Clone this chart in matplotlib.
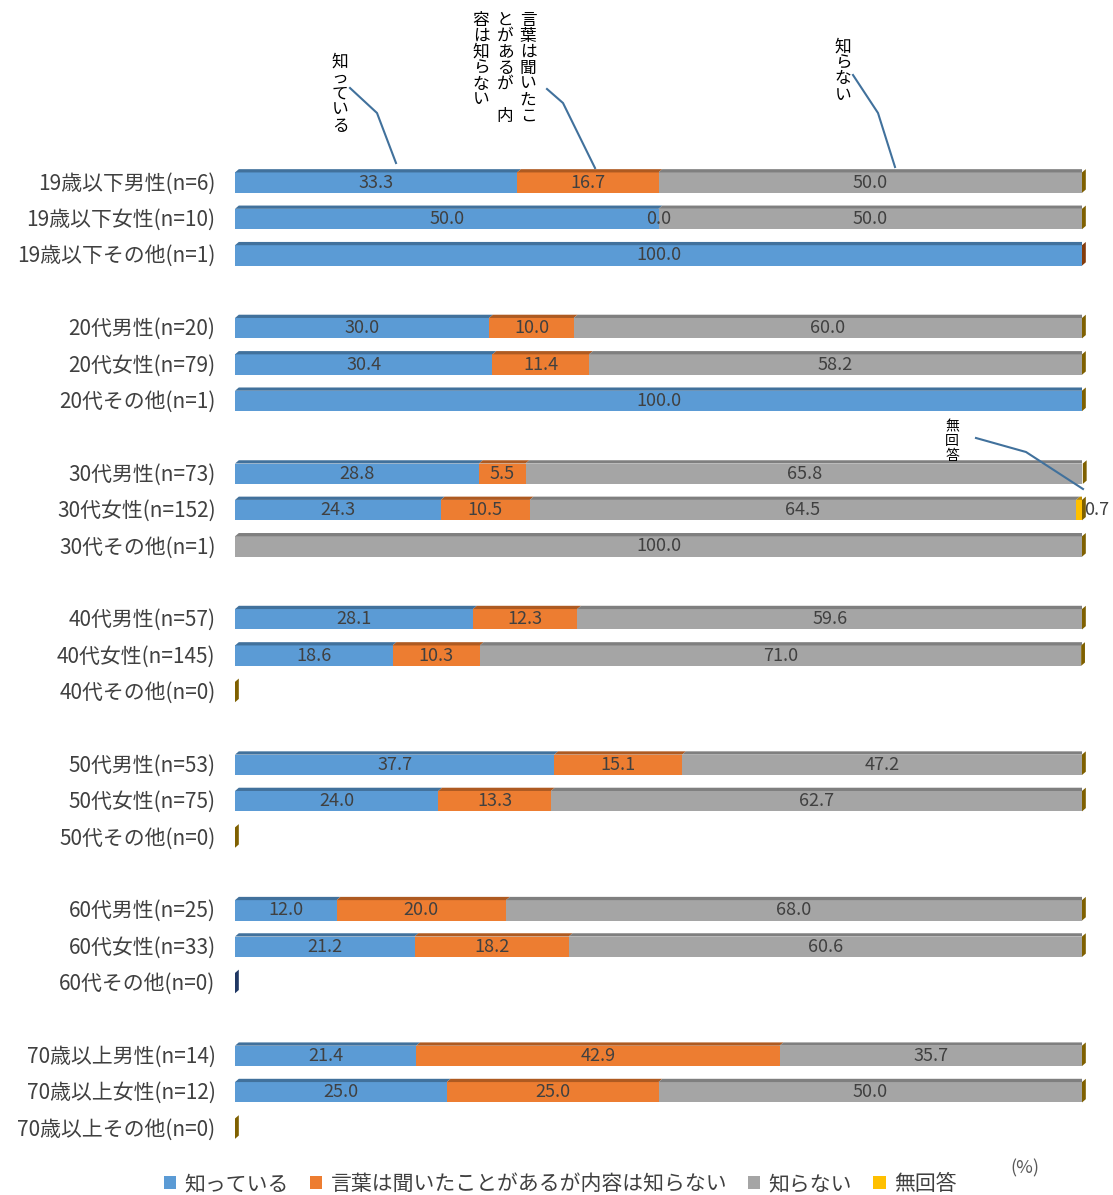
import numpy as np
import matplotlib
matplotlib.use("Agg")
import matplotlib.pyplot as plt
from matplotlib.patches import Polygon, Patch

plt.rcParams['font.family'] = ['Noto Sans CJK JP', 'DejaVu Sans']

# data (None = no answer cell / n=0)
groups = ['19歳以下', '20代', '30代', '40代', '50代', '60代', '70歳以上']
labels = [
    '19歳以下男性(n=6)', '19歳以下女性(n=10)', '19歳以下その他(n=1)',
    '20代男性(n=20)', '20代女性(n=79)', '20代その他(n=1)',
    '30代男性(n=73)', '30代女性(n=152)', '30代その他(n=1)',
    '40代男性(n=57)', '40代女性(n=145)', '40代その他(n=0)',
    '50代男性(n=53)', '50代女性(n=75)', '50代その他(n=0)',
    '60代男性(n=25)', '60代女性(n=33)', '60代その他(n=0)',
    '70歳以上男性(n=14)', '70歳以上女性(n=12)', '70歳以上その他(n=0)',
]
shitteiru = [33.3, 50.0, 100.0, 30.0, 30.4, 100.0, 28.8, 24.3, None,
             28.1, 18.6, None, 37.7, 24.0, None, 12.0, 21.2, None,
             21.4, 25.0, None]
kiita = [16.7, 0.0, None, 10.0, 11.4, None, 5.5, 10.5, None,
         12.3, 10.3, None, 15.1, 13.3, None, 20.0, 18.2, None,
         42.9, 25.0, None]
shiranai = [50.0, 50.0, None, 60.0, 58.2, None, 65.8, 64.5, 100.0,
            59.6, 71.0, None, 47.2, 62.7, None, 68.0, 60.6, None,
            35.7, 50.0, None]
mukaitou = [None, None, None, None, None, None, None, 0.7, None,
            None, None, None, None, None, None, None, None, None,
            None, None, None]
series_names = ['知っている', '言葉は聞いたことがあるが内容は知らない', '知らない', '無回答']

colors = ['#5B9BD5', '#ED7D31', '#A5A5A5', '#FFC000']
tops = ['#41719C', '#AE5A21', '#7F7F7F', '#BC8C00']
side_default = '#7F6000'
side_special = {2: '#843C0C', 17: '#203864'}

# y slot positions: 3 rows per group + 1 gap
ypos = [g * 4 + k for g in range(len(groups)) for k in range(3)]

fig = plt.figure(figsize=(11.13, 11.95), dpi=100)
ax = fig.add_axes([235 / 1113, 1 - 1145.2 / 1195, 847 / 1113, 982.4 / 1195])
ax.set_xlim(0, 100)
ax.set_ylim(26.5, -0.5)

h = 0.56          # front face height (slots)
dx = 0.45         # depth x (data units)
dy = 0.09         # depth y (slots)
txt_col = '#404040'

all_series = [shitteiru, kiita, shiranai, mukaitou]
for i, y in enumerate(ypos):
    left = 0.0
    for s, vals in enumerate(all_series):
        v = vals[i]
        if v is None:
            continue
        ax.barh(y + dy / 2, v, left=left, height=h, color=colors[s], zorder=2)
        top = y + dy / 2 - h / 2
        ax.add_patch(Polygon([(left, top), (left + dx, top - dy),
                              (left + v + dx, top - dy), (left + v, top)],
                             closed=True, color=tops[s], zorder=2, lw=0))
        if s == 3:
            ax.text(left + v + 0.3, y + dy / 2, f'{v:.1f}', ha='left', va='center',
                    fontsize=13, color=txt_col, zorder=5, clip_on=False)
        else:
            ax.text(left + v / 2, y + dy / 2, f'{v:.1f}', ha='center', va='center',
                    fontsize=13, color=txt_col, zorder=5)
        left += v
    # side face at the right end
    top = y + dy / 2 - h / 2
    bot = y + dy / 2 + h / 2
    sc = side_special.get(i, side_default)
    ax.add_patch(Polygon([(left, top), (left + dx, top - dy),
                          (left + dx, bot - dy), (left, bot)],
                         closed=True, color=sc, zorder=3, lw=0, clip_on=False))

ax.set_yticks(ypos)
ax.set_yticklabels(labels, fontsize=15, color='#404040')
ax.tick_params(axis='y', length=0, pad=14)
ax.set_xticks([])
for sp in ax.spines.values():
    sp.set_visible(False)

# callouts (figure pixel coords -> fraction)
W, H = 1113, 1195
def fx(x):
    return x / W
def fy(y):
    return 1 - y / H

line_col = '#41719C'
callouts = [
    [(350, 88), (377, 113), (396, 163)],
    [(547, 89), (563, 103), (595, 168)],
    [(853, 75), (878, 113), (895, 167)],
    [(976, 438), (1026, 452), (1083, 489)],
]
for pts in callouts:
    fig.add_artist(plt.Line2D([fx(p[0]) for p in pts], [fy(p[1]) for p in pts],
                              color=line_col, lw=1.5))

def vtext(x, y0, s, step, size):
    for k, ch in enumerate(s):
        fig.text(fx(x), fy(y0 + k * step), ch, ha='center', va='center',
                 fontsize=size, color='black')

vtext(340, 62, '知っている', 16, 12)
vtext(528, 20, '言葉は聞いたこ', 16, 12)
vtext(505, 20, 'とがあるが 内', 16, 12)
vtext(481, 20, '容は知らない', 16, 12)
vtext(843, 47, '知らない', 16, 12)
vtext(952, 426, '無回答', 15, 10)

fig.text(fx(1025), fy(1168), '(%)', ha='center', va='center', fontsize=13, color='#595959')

handles = [Patch(facecolor=c, edgecolor='none') for c in colors]
fig.legend(handles, series_names, loc='center', bbox_to_anchor=(fx(560), fy(1184)),
           ncol=4, frameon=False, fontsize=15, handlelength=0.6, handleheight=0.6,
           handletextpad=0.4, columnspacing=1.0, labelcolor='#404040')

fig.savefig('out.png', dpi=100)
